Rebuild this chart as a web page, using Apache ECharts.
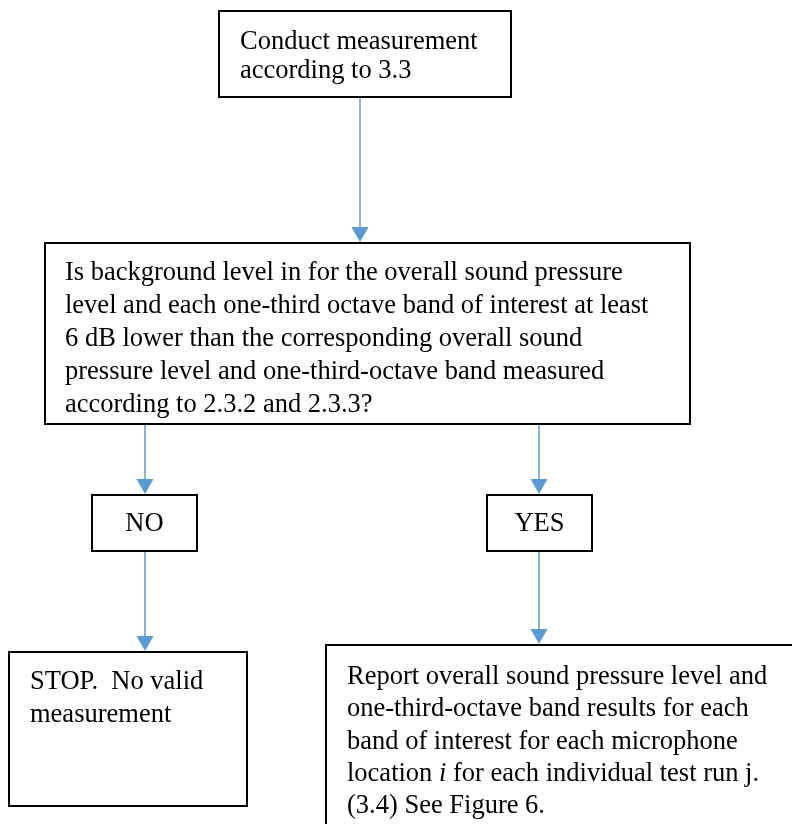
<!DOCTYPE html>
<html>
<head>
<meta charset="utf-8">
<title>Measurement flowchart</title>
<script src="https://cdn.jsdelivr.net/npm/echarts@6/dist/echarts.min.js"></script>
<style>
  html, body { margin: 0; padding: 0; background: #fff; }
  #chart { width: 792px; height: 824px; }
</style>
</head>
<body>
<div id="chart"></div>
<script>
// flowchart steps (text of every box)
var stepNames = ['measure', 'check', 'no', 'yes', 'stop', 'report'];
var stepLines = [
    ['Conduct measurement', 'according to 3.3'],
    ['Is background level in for the overall sound pressure',
     'level and each one-third octave band of interest at least',
     '6 dB lower than the corresponding overall sound',
     'pressure level and one-third-octave band measured',
     'according to 2.3.2 and 2.3.3?'],
    ['NO'],
    ['YES'],
    ['STOP.  No valid', 'measurement'],
    ['Report overall sound pressure level and',
     'one-third-octave band results for each',
     'band of interest for each microphone',
     'location {it|i} for each individual test run j.',
     '(3.4) See Figure 6.']
];
// which step leads to which
var links = [['measure', 'check'], ['check', 'no'], ['check', 'yes'], ['no', 'stop'], ['yes', 'report']];

// layout (page units, y downward)
var boxLayout = {
    measure: {x0: 219, y0: 11, x1: 511, y1: 97, tx: 240, ty: 28, lh: 29},
    check:   {x0: 45, y0: 243, x1: 690, y1: 424, tx: 65, ty: 257, lh: 33},
    no:      {x0: 92, y0: 495, x1: 197, y1: 551, center: true},
    yes:     {x0: 487, y0: 495, x1: 592, y1: 551, center: true},
    stop:    {x0: 9, y0: 652, x1: 247, y1: 806, tx: 30, ty: 666, lh: 33},
    report:  {x0: 326, y0: 645, x1: 805, y1: 835, tx: 347, ty: 661, lh: 32.3}
};
var linkX = [360, 145, 539, 145, 539];

var FONT = '"Liberation Serif", "Times New Roman", serif';
var ARROW = '#5B9BD5';

var boxData = stepNames.map(function (n, i) {
    var b = boxLayout[n];
    return [b.x0, b.y0, b.x1, b.y1, i];
});
var arrowData = links.map(function (l, i) {
    return [linkX[i], boxLayout[l[0]].y1, boxLayout[l[1]].y0];
});

var myChart = echarts.init(document.getElementById('chart'), null, {renderer: 'canvas'});

var option = {
    animation: false,
    backgroundColor: '#fff',
    grid: {left: 0, right: 0, top: 0, bottom: 0},
    xAxis: {type: 'value', min: 0, max: 792, show: false},
    yAxis: {type: 'value', min: 0, max: 824, inverse: true, show: false},
    series: [
        {
            type: 'custom',
            name: 'boxes',
            data: boxData,
            renderItem: function (params, api) {
                var p0 = api.coord([api.value(0), api.value(1)]);
                var p1 = api.coord([api.value(2), api.value(3)]);
                var idx = api.value(4);
                var b = boxLayout[stepNames[idx]];
                var textEl;
                if (b.center) {
                    textEl = {
                        type: 'text',
                        style: {
                            x: (p0[0] + p1[0]) / 2, y: (p0[1] + p1[1]) / 2 + 1,
                            text: stepLines[idx].join('\n'),
                            font: '26.5px ' + FONT, fill: '#000',
                            align: 'center', verticalAlign: 'middle'
                        }
                    };
                } else {
                    var t = api.coord([b.tx, b.ty]);
                    textEl = {
                        type: 'text',
                        style: {
                            x: t[0], y: t[1],
                            text: stepLines[idx].join('\n'),
                            fontFamily: FONT, fontSize: 26.5, fill: '#000',
                            lineHeight: b.lh,
                            align: 'left', verticalAlign: 'top',
                            rich: {
                                it: {fontFamily: FONT, fontSize: 26.5, fontStyle: 'italic', fill: '#000', lineHeight: b.lh}
                            }
                        }
                    };
                }
                return {
                    type: 'group',
                    children: [
                        {
                            type: 'rect',
                            shape: {x: p0[0], y: p0[1], width: p1[0] - p0[0], height: p1[1] - p0[1]},
                            style: {fill: '#fff', stroke: '#000', lineWidth: 2}
                        },
                        textEl
                    ]
                };
            }
        },
        {
            type: 'custom',
            name: 'arrows',
            data: arrowData,
            renderItem: function (params, api) {
                var top = api.coord([api.value(0), api.value(1)]);
                var tip = api.coord([api.value(0), api.value(2)]);
                var head = 16, half = 8.5;
                return {
                    type: 'group',
                    children: [
                        {
                            type: 'line',
                            shape: {x1: top[0], y1: top[1] + 1, x2: tip[0], y2: tip[1] - head},
                            style: {stroke: ARROW, lineWidth: 1.5}
                        },
                        {
                            type: 'polygon',
                            shape: {points: [[tip[0] - half, tip[1] - head], [tip[0] + half, tip[1] - head], [tip[0], tip[1] - 1]]},
                            style: {fill: ARROW}
                        }
                    ]
                };
            }
        }
    ]
};

myChart.setOption(option);
</script>
</body>
</html>
